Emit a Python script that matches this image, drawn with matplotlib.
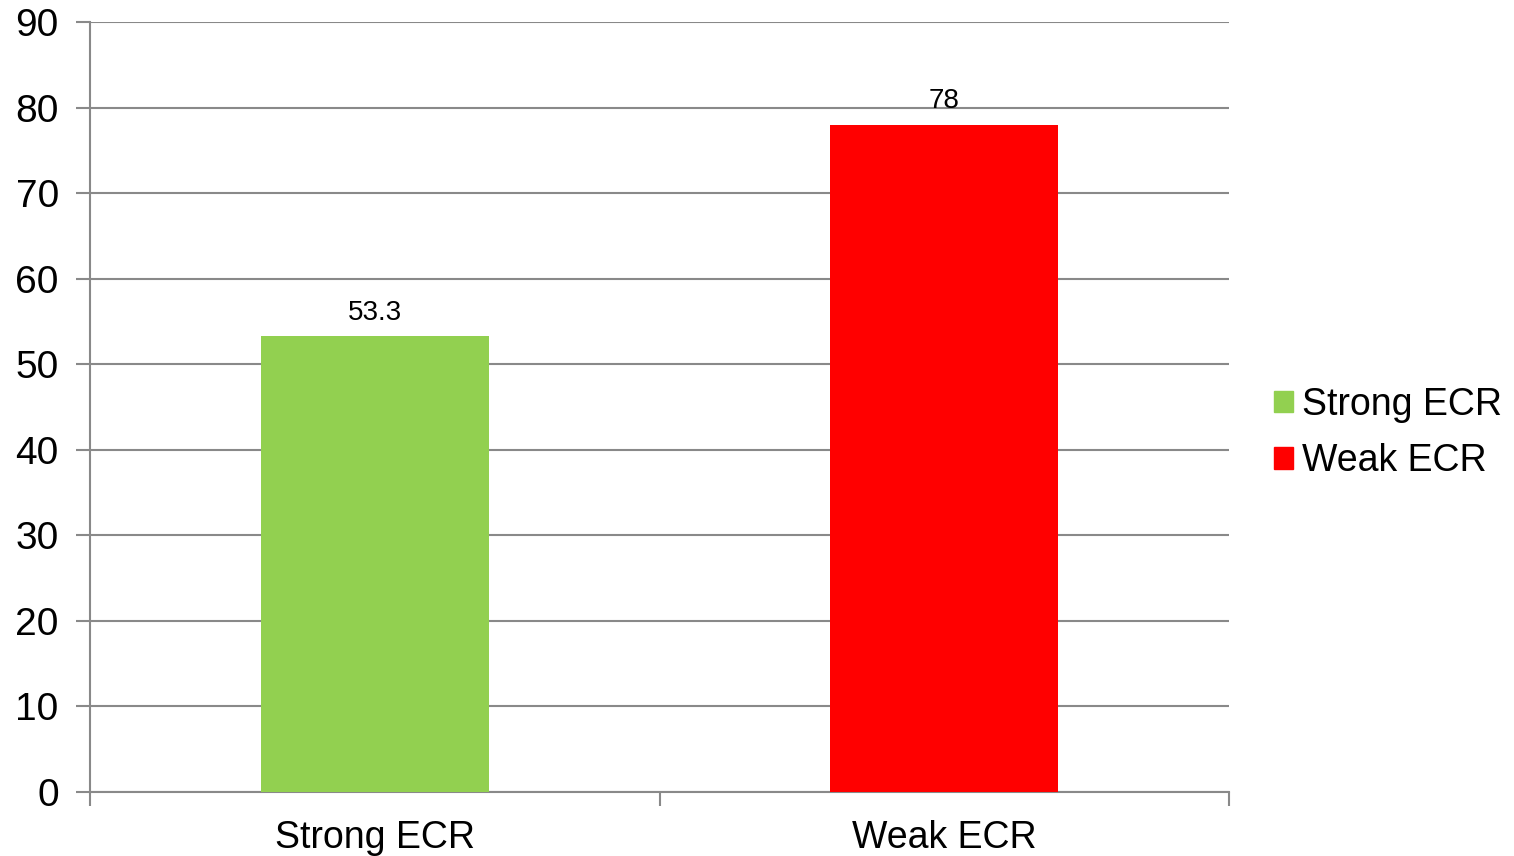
import matplotlib.pyplot as plt
from matplotlib.patches import Patch

categories = ["Strong ECR", "Weak ECR"]
values = [53.3, 78]
colors = ["#92D050", "#FF0000"]
y_ticks = [0, 10, 20, 30, 40, 50, 60, 70, 80, 90]

plt.rcParams["font.family"] = ["Liberation Sans", "DejaVu Sans"]

fig = plt.figure(figsize=(15.14, 8.56), dpi=100)
ax = fig.add_axes([90 / 1514, 1 - 792 / 856, (1229 - 90) / 1514, (792 - 22) / 856])

x = list(range(len(categories)))
bars = ax.bar(x, values, width=0.4, color=colors, zorder=3)

for b, v in zip(bars, values):
    ax.text(b.get_x() + b.get_width() / 2, v + 1.2, f"{v:g}",
            ha="center", va="bottom", fontsize=20)

ax.set_xlim(-0.5, 1.5)
ax.set_ylim(0, 90)
ax.set_yticks(y_ticks)
ax.set_xticks(x)
ax.set_xticklabels(categories)
ax.tick_params(axis="y", labelsize=28, length=10, color="#898989", width=1.5, pad=12.5)
ax.tick_params(axis="x", labelsize=27, length=0, pad=20)
# category boundary ticks along the x axis
ax.set_xticks([-0.5, 0.5, 1.5], minor=True)
ax.tick_params(axis="x", which="minor", length=10, color="#898989", width=1.5)

ax.grid(axis="y", color="#898989", linewidth=1.5, zorder=0)
for side in ["top", "right"]:
    ax.spines[side].set_visible(False)
for side in ["left", "bottom"]:
    ax.spines[side].set_color("#898989")
    ax.spines[side].set_linewidth(1.5)

handles = [Patch(color=c, label=l) for c, l in zip(colors, categories)]
fig.legend(handles=handles, loc="center left", bbox_to_anchor=(1240 / 1514, 1 - 433 / 856),
           frameon=False, fontsize=27, handlelength=0.5, handleheight=0.5,
           handletextpad=0.25, labelspacing=0.55)

fig.savefig("out.png", dpi=100)
